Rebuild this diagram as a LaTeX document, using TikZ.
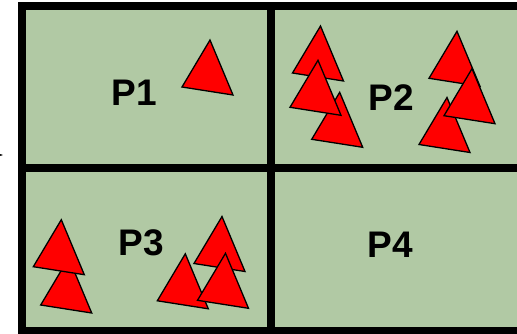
\documentclass[tikz,border=0pt]{standalone}
\usepackage{fontspec}
\setmainfont{Liberation Sans}
\usepackage{tikz}
\usetikzlibrary{arrows.meta}
\usepackage{xcolor}
\definecolor{Sage}{HTML}{B1C9A4}
\definecolor{TriRed}{HTML}{FF0000}

\begin{document}
\begin{tikzpicture}[x=1pt,y=-1pt,>=Latex,
    plabel/.style={font=\fontsize{37}{40}\selectfont\bfseries,inner sep=0pt},
    tri/.style={fill=TriRed,draw=black,line width=1.3pt,line join=miter}]
    \useasboundingbox (0,0) rectangle (517,333);
    \fill[Sage] (22,6) rectangle (521,331);
    % points in the four panels
    \foreach \x/\y in {182/87, 292.5/73, 311.7/139.3, 290/107.3, 429/78.3, 419/144.5, 444/115.7,
                       40.7/305, 33.3/266.7, 194/263.5, 157.3/300.8, 197.5/300.3}
      \filldraw[tri] (\x,\y) -- ++(51,8) -- ++(-23,-55) -- cycle;
    % grid
    \draw[line width=8pt] (22,6) rectangle (521,331);
    \draw[line width=8pt] (271,6) -- (271,331);
    \draw[line width=8pt] (22,168) -- (521,168);
    \node[plabel] (p1) at (134,93) {P1};
    \node[plabel] (p2) at (391,98) {P2};
    \node[plabel] (p3) at (141,243) {P3};
    \node[plabel] (p4) at (390,245) {P4};
    \coordinate (arrA) at (-8,155);
    \coordinate (arrB) at (3,155);
    \draw[->,thin] (arrA) -- (arrB);
  \end{tikzpicture}
\end{document}
